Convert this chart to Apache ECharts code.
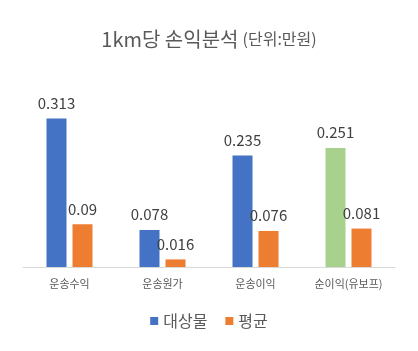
<!DOCTYPE html>
<html>
<head>
<meta charset="utf-8">
<script src="https://cdn.jsdelivr.net/npm/echarts@6/dist/echarts.min.js"></script>
<style>
  html, body { margin: 0; padding: 0; background: #fff; }
  #chart { width: 418px; height: 351px; }
</style>
</head>
<body>
<div id="chart"></div>
<script>
const categories = ['운송수익', '운송원가', '운송이익', '순이익(유보프)']
const targetValues = [0.313, 0.078, 0.235, 0.251]
const avgValues = [0.09, 0.016, 0.076, 0.081]
const seriesNames = ['대상물', '평균']

const font = '"Malgun Gothic", "Noto Sans CJK KR", sans-serif'
const chart = echarts.init(document.getElementById('chart'))

const labelStyle = {
    show: true,
    position: 'top',
    distance: 8,
    color: '#404040',
    fontSize: 15,
    fontFamily: font
}

chart.setOption({
    textStyle: { fontFamily: font },
    title: {
        text: '{a|1km당 손익분석} {b|(단위:만원)}',
        left: 'center',
        top: 24,
        textStyle: {
            rich: {
                a: { fontSize: 20, color: '#595959', fontWeight: 'normal', fontFamily: font },
                b: { fontSize: 16, color: '#595959', fontWeight: 'normal', fontFamily: font }
            }
        }
    },
    legend: {
        bottom: 17,
        itemWidth: 8,
        itemHeight: 8,
        itemGap: 18,
        icon: 'rect',
        textStyle: { fontSize: 16, color: '#595959', fontFamily: font },
        data: seriesNames
    },
    grid: { left: 23, right: 23, top: 101, bottom: 84 },
    xAxis: {
        type: 'category',
        data: categories,
        axisLine: { lineStyle: { color: '#d9d9d9', width: 1 } },
        axisTick: { show: false },
        axisLabel: { color: '#595959', fontSize: 11, margin: 11, fontFamily: font }
    },
    yAxis: {
        type: 'value',
        min: 0,
        max: 0.35,
        show: false,
        splitLine: { show: false }
    },
    series: [
        {
            name: seriesNames[0],
            type: 'bar',
            barWidth: 20,
            barGap: '30%',
            itemStyle: { color: '#4472C4' },
            label: labelStyle,
            data: targetValues.map((v, i) => i === 3 ? { value: v, itemStyle: { color: '#A9D18E' } } : v)
        },
        {
            name: seriesNames[1],
            type: 'bar',
            barWidth: 20,
            itemStyle: { color: '#ED7D31' },
            label: labelStyle,
            data: avgValues
        }
    ]
})
</script>
</body>
</html>
